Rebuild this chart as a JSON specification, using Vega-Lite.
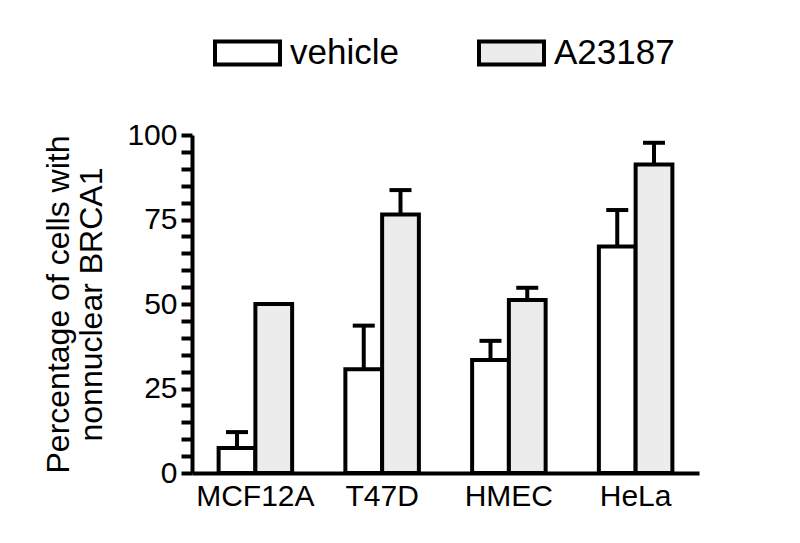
{
  "$schema": "https://vega.github.io/schema/vega-lite/v6.json",
  "width": 507,
  "height": 338,
  "autosize": {"type": "none"},
  "padding": {"left": 192, "top": 135, "right": 101, "bottom": 70},
  "background": "white",
  "config": {
    "view": {"stroke": null},
    "font": "Liberation Sans",
    "axis": {"domainColor": "black", "domainWidth": 4, "tickColor": "black", "tickWidth": 4, "labelColor": "black", "titleColor": "black", "grid": false}
  },
  "data": {
    "values": [
      {"cell": "MCF12A", "treatment": "vehicle", "value": 7.4, "upper": 12.1},
      {"cell": "MCF12A", "treatment": "A23187", "value": 50, "upper": null},
      {"cell": "T47D", "treatment": "vehicle", "value": 30.7, "upper": 43.6},
      {"cell": "T47D", "treatment": "A23187", "value": 76.5, "upper": 83.7},
      {"cell": "HMEC", "treatment": "vehicle", "value": 33.4, "upper": 39.1},
      {"cell": "HMEC", "treatment": "A23187", "value": 51.2, "upper": 54.8},
      {"cell": "HeLa", "treatment": "vehicle", "value": 67, "upper": 77.8},
      {"cell": "HeLa", "treatment": "A23187", "value": 91.3, "upper": 97.7}
    ]
  },
  "encoding": {
    "x": {
      "field": "cell", "type": "nominal", "sort": ["MCF12A", "T47D", "HMEC", "HeLa"],
      "scale": {"paddingInner": 0.42, "paddingOuter": 0.21},
      "axis": {"title": null, "labelAngle": 0, "labelFontSize": 30, "ticks": false, "labelPadding": 8}
    },
    "xOffset": {"field": "treatment", "type": "nominal", "sort": ["vehicle", "A23187"], "scale": {"paddingInner": 0, "paddingOuter": 0}}
  },
  "layer": [
    {
      "mark": {"type": "bar", "stroke": "black", "strokeWidth": 4, "opacity": 1},
      "encoding": {
        "y": {
          "field": "value", "type": "quantitative",
          "scale": {"domain": [0, 100], "nice": false},
          "axis": {
            "tickCount": 20,
            "labelExpr": "datum.value % 25 === 0 ? datum.label : ''",
            "labelOverlap": false,
            "ticks": true,
            "tickSize": 11,
            "labelFontSize": 30,
            "labelPadding": 4,
            "title": ["Percentage of cells with", "nonnuclear BRCA1"],
            "titleFontSize": 32,
            "titleFontWeight": "normal",
            "titleLineHeight": 33,
            "titlePadding": 18
          }
        },
        "fill": {
          "field": "treatment", "type": "nominal",
          "scale": {"domain": ["vehicle", "A23187"], "range": ["white", "#ececec"]},
          "legend": {
            "title": null,
            "orient": "none",
            "direction": "horizontal",
            "legendX": 21,
            "legendY": -117,
            "symbolType": "M-1,-0.354 L1,-0.354 L1,0.354 L-1,0.354 Z",
            "symbolSize": 4225,
            "symbolStrokeColor": "black",
            "symbolStrokeWidth": 4,
            "labelFontSize": 35,
            "labelColor": "black",
            "labelOffset": 8,
            "columnPadding": 72
          }
        }
      }
    },
    {
      "transform": [{"filter": "datum.upper != null"}],
      "mark": {"type": "rule", "color": "black", "strokeWidth": 4},
      "encoding": {
        "y": {
          "field": "value", "type": "quantitative",
          "scale": {"domain": [0, 100], "nice": false},
          "axis": {
            "tickCount": 20,
            "labelExpr": "datum.value % 25 === 0 ? datum.label : ''",
            "labelOverlap": false,
            "ticks": true,
            "tickSize": 11,
            "labelFontSize": 30,
            "labelPadding": 4,
            "title": ["Percentage of cells with", "nonnuclear BRCA1"],
            "titleFontSize": 32,
            "titleFontWeight": "normal",
            "titleLineHeight": 33,
            "titlePadding": 18
          }
        },
        "y2": {"field": "upper"}
      }
    },
    {
      "transform": [{"filter": "datum.upper != null"}],
      "mark": {"type": "tick", "color": "black", "thickness": 4, "size": 22, "opacity": 1},
      "encoding": {
        "y": {
          "field": "upper", "type": "quantitative",
          "scale": {"domain": [0, 100], "nice": false},
          "axis": {
            "tickCount": 20,
            "labelExpr": "datum.value % 25 === 0 ? datum.label : ''",
            "labelOverlap": false,
            "ticks": true,
            "tickSize": 11,
            "labelFontSize": 30,
            "labelPadding": 4,
            "title": ["Percentage of cells with", "nonnuclear BRCA1"],
            "titleFontSize": 32,
            "titleFontWeight": "normal",
            "titleLineHeight": 33,
            "titlePadding": 18
          }
        }
      }
    }
  ]
}
